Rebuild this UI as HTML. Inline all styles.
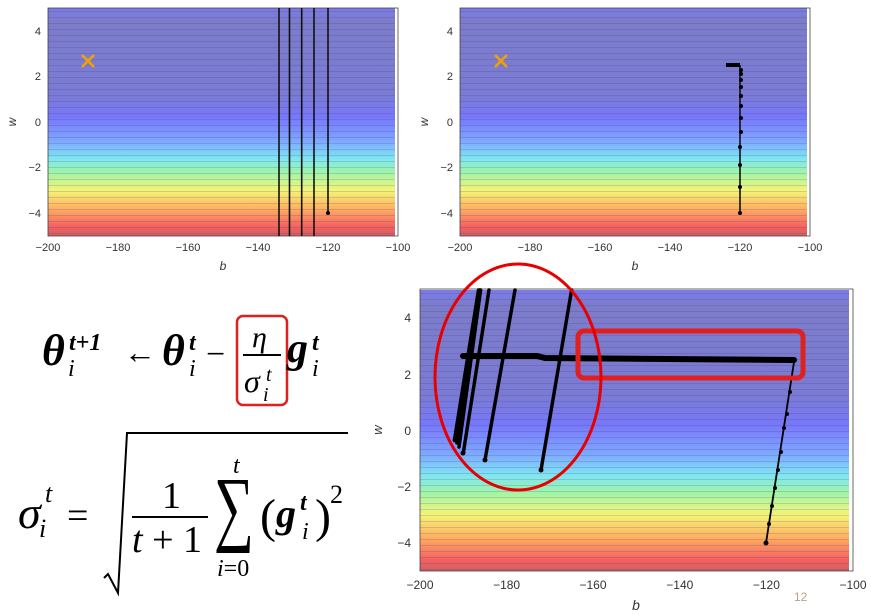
<!DOCTYPE html>
<html><head><meta charset="utf-8"><style>
body{margin:0;background:#fff;width:871px;height:615px;overflow:hidden;position:relative;font-family:"Liberation Sans",sans-serif}
svg{position:absolute;left:0;top:0}
.f{font-family:"Liberation Serif",serif;font-style:italic}
.b{font-weight:bold}
.n{font-style:normal}
</style></head><body>
<svg width="871" height="615" viewBox="0 0 871 615">
<defs>
<linearGradient id="g" x1="0" y1="0" x2="0" y2="1">
<stop offset="0" stop-color="#7b7be8"/>
<stop offset="0.06" stop-color="#7c7cc8"/>
<stop offset="0.38" stop-color="#7b7bd4"/>
<stop offset="0.48" stop-color="#7878f8"/>
<stop offset="0.58" stop-color="#7fa6ff"/>
<stop offset="0.66" stop-color="#7fe6f0"/>
<stop offset="0.72" stop-color="#9ff5a8"/>
<stop offset="0.8" stop-color="#f5f575"/>
<stop offset="0.88" stop-color="#ffb060"/>
<stop offset="0.96" stop-color="#f56060"/>
<stop offset="1" stop-color="#d06060"/>
</linearGradient>
<pattern id="c1" width="400" height="6" patternUnits="userSpaceOnUse"><line x1="0" y1="5.5" x2="400" y2="5.5" stroke="#3030a0" stroke-opacity="0.25" stroke-width="0.7"/></pattern>
</defs>
<g font-size="11" fill="#333">
<!-- plot1 -->
<rect x="48" y="8" width="347" height="228" fill="url(#g)"/>
<rect x="48" y="8" width="347" height="228" fill="url(#c1)"/>
<rect x="48" y="8" width="350" height="228" fill="none" stroke="#444" stroke-width="0.8"/>
<g stroke="#111" stroke-width="1.6"><line x1="279" y1="8" x2="279" y2="236"/><line x1="289.5" y1="8" x2="289.5" y2="236"/><line x1="301.7" y1="8" x2="301.7" y2="236"/><line x1="314" y1="8" x2="314" y2="236"/><line x1="328" y1="8" x2="328" y2="213"/></g>
<circle cx="328" cy="213" r="2" fill="#000"/>
<g stroke="#f5a000" stroke-width="2.5"><line x1="82" y1="55" x2="94" y2="67"/><line x1="94" y1="55" x2="82" y2="67"/></g>
<g text-anchor="end"><text x="41" y="35">4</text><text x="41" y="80">2</text><text x="41" y="126">0</text><text x="41" y="171">−2</text><text x="41" y="217">−4</text></g>
<g text-anchor="middle"><text x="48" y="251">−200</text><text x="118" y="251">−180</text><text x="188" y="251">−160</text><text x="258" y="251">−140</text><text x="328" y="251">−120</text><text x="398" y="251">−100</text><text x="223" y="270" font-style="italic" font-size="12">b</text></g>
<text x="16" y="122" font-style="italic" font-size="12" transform="rotate(-90 16 122)" text-anchor="middle">w</text>
<!-- plot2 -->
<rect x="460" y="8" width="347" height="228" fill="url(#g)"/>
<rect x="460" y="8" width="347" height="228" fill="url(#c1)"/>
<rect x="460" y="8" width="350" height="228" fill="none" stroke="#444" stroke-width="0.8"/>
<g stroke="#111" stroke-width="1.6"><line x1="740" y1="213" x2="740" y2="65"/></g>
<line x1="740" y1="65" x2="726" y2="65" stroke="#000" stroke-width="4"/>
<g fill="#000"><circle cx="740" cy="213" r="2"/><circle cx="740" cy="187" r="2"/><circle cx="740" cy="165" r="2"/><circle cx="740" cy="147" r="2"/><circle cx="741" cy="132" r="2"/><circle cx="741" cy="118" r="2"/><circle cx="741" cy="106" r="2"/><circle cx="741" cy="96" r="2"/><circle cx="741" cy="87" r="2"/><circle cx="741" cy="80" r="2"/><circle cx="741" cy="74" r="2"/><circle cx="741" cy="70" r="2"/></g>
<g stroke="#f5a000" stroke-width="2.5"><line x1="495" y1="55" x2="507" y2="67"/><line x1="507" y1="55" x2="495" y2="67"/></g>
<g text-anchor="end"><text x="453" y="35">4</text><text x="453" y="80">2</text><text x="453" y="126">0</text><text x="453" y="171">−2</text><text x="453" y="217">−4</text></g>
<g text-anchor="middle"><text x="460" y="251">−200</text><text x="530" y="251">−180</text><text x="600" y="251">−160</text><text x="670" y="251">−140</text><text x="740" y="251">−120</text><text x="810" y="251">−100</text><text x="635" y="270" font-style="italic" font-size="12">b</text></g>
<text x="428" y="122" font-style="italic" font-size="12" transform="rotate(-90 428 122)" text-anchor="middle">w</text>
<!-- plot3 -->
<rect x="420" y="290" width="429" height="281" fill="url(#g)"/>
<rect x="420" y="290" width="429" height="281" fill="url(#c1)"/>
<rect x="420" y="289" width="433" height="282" fill="none" stroke="#444" stroke-width="0.8"/>
<g stroke="#000" fill="none" stroke-linecap="round">
<g stroke-width="3.5" stroke-dasharray="2 1.5">
<line x1="454.6" y1="439" x2="478.5" y2="290"/><line x1="457" y1="443" x2="479.5" y2="290"/><line x1="459" y1="447" x2="480.6" y2="290"/><line x1="463.3" y1="453" x2="489" y2="290"/><line x1="485" y1="460" x2="515" y2="290"/><line x1="541" y1="470" x2="571.6" y2="290"/>
</g>
<g stroke-width="1.5">
<line x1="454.6" y1="439" x2="478.5" y2="290"/><line x1="457" y1="443" x2="479.5" y2="290"/><line x1="459" y1="447" x2="480.6" y2="290"/><line x1="463.3" y1="453" x2="489" y2="290"/><line x1="485" y1="460" x2="515" y2="290"/><line x1="541" y1="470" x2="571.6" y2="290"/>
</g>
<polyline points="463,356 537,356 545,358 794,360" stroke-width="6"/>
<line x1="794" y1="362" x2="766" y2="543" stroke-width="1.8"/>
</g>
<g fill="#000"><circle cx="766" cy="543" r="2.5"/><circle cx="769" cy="524" r="2"/><circle cx="772" cy="506" r="2"/><circle cx="775" cy="488" r="2"/><circle cx="778" cy="470" r="2"/><circle cx="781" cy="452" r="2"/><circle cx="784" cy="428" r="2"/><circle cx="787" cy="414" r="2"/><circle cx="790" cy="392" r="2"/><circle cx="792" cy="378" r="2"/><circle cx="485" cy="460" r="2.5"/><circle cx="541" cy="470" r="2.5"/><circle cx="463" cy="453" r="2.5"/><circle cx="455" cy="440" r="2.5"/></g>
<g text-anchor="end" font-size="12"><text x="411" y="322">4</text><text x="411" y="379">2</text><text x="411" y="435">0</text><text x="411" y="491">−2</text><text x="411" y="547">−4</text></g>
<g text-anchor="middle" font-size="12"><text x="420" y="589">−200</text><text x="506.6" y="589">−180</text><text x="593" y="589">−160</text><text x="679.8" y="589">−140</text><text x="766.4" y="589">−120</text><text x="853" y="589">−100</text><text x="636" y="610" font-style="italic" font-size="14">b</text></g>
<text x="382" y="430" font-style="italic" font-size="13" transform="rotate(-90 382 430)" text-anchor="middle">w</text>
</g>
<rect x="578" y="331" width="225" height="47" rx="6" fill="none" stroke="#e02020" stroke-width="5"/>
<ellipse cx="518" cy="377" rx="83" ry="113" fill="none" stroke="#e80000" stroke-width="3"/>
<text x="794" y="601" font-size="12" fill="#c0a080">12</text>
<!-- formula 1 -->
<rect x="237" y="316" width="50" height="89" rx="6" fill="none" stroke="#e02020" stroke-width="2.5"/>
<line x1="243" y1="355" x2="281" y2="355" stroke="#000" stroke-width="2"/>
<g class="f" fill="#000">
<text x="42" y="365" font-size="44" class="b">θ</text>
<text x="68" y="376" font-size="24">i</text>
<text x="69" y="350" font-size="24" class="b">t+1</text>
<text x="124" y="363" font-size="32" class="n">←</text>
<text x="162" y="365" font-size="44" class="b">θ</text>
<text x="189" y="376" font-size="24">i</text>
<text x="189" y="350" font-size="24" class="b">t</text>
<text x="206" y="365" font-size="34" class="n">−</text>
<text x="252" y="347" font-size="30">η</text>
<text x="244" y="392" font-size="32">σ</text>
<text x="266" y="381" font-size="20">t</text>
<text x="263" y="401" font-size="20">i</text>
<text x="287" y="362" font-size="42" class="b">g</text>
<text x="312" y="350" font-size="24" class="b">t</text>
<text x="312" y="376" font-size="24">i</text>
</g>
<!-- formula 2 -->
<line x1="132" y1="517" x2="208" y2="517" stroke="#000" stroke-width="2"/>
<polyline points="104,578 108,574 118,593 127,433 348,433" fill="none" stroke="#000" stroke-width="2"/>
<g class="f" fill="#000">
<text x="18" y="528" font-size="46">σ</text>
<text x="45" y="502" font-size="26">t</text>
<text x="39" y="537" font-size="26">i</text>
<text x="67" y="528" font-size="38" class="n">=</text>
<text x="162" y="508" font-size="38" class="n">1</text>
<text x="132" y="552" font-size="38">t <tspan class="n">+ 1</tspan></text>
<text transform="translate(214 535) scale(1 1.5)" x="0" y="0" font-size="56" class="n">∑</text>
<text x="233" y="473" font-size="24">t</text>
<text x="217" y="576" font-size="24">i<tspan class="n">=0</tspan></text>
<text x="260" y="532" font-size="48" class="n">(</text>
<text x="276" y="527" font-size="40" class="b">g</text>
<text x="300" y="510" font-size="24" class="b">t</text>
<text x="302" y="539" font-size="24">i</text>
<text x="315" y="532" font-size="48" class="n">)</text>
<text x="330" y="503" font-size="26" class="n">2</text>
</g>
</svg>
</body></html>
